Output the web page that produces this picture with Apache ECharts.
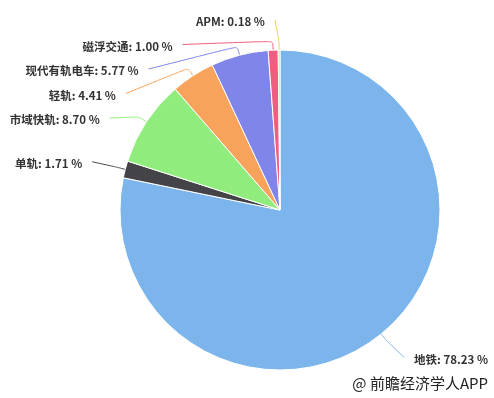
<!DOCTYPE html>
<html><head><meta charset="utf-8">
<script src="https://cdn.jsdelivr.net/npm/echarts@6/dist/echarts.min.js"></script>
<style>html,body{margin:0;padding:0;background:#fff}#c{width:494px;height:398px}</style>
</head><body><div id="c"></div>
<script>
const categories = ['地铁','单轨','市域快轨','轻轨','现代有轨电车','磁浮交通','APM'];
const shares = [78.23, 1.71, 8.70, 4.41, 5.77, 1.00, 0.18];
const colors = ['#7cb5ec','#434348','#90ed7d','#f7a35c','#8085e9','#f15c80','#e4d354'];

// layout settings (Highcharts-like label distribution)
const CX = 280, CY = 210, R = 160, LABEL_R = 190, TOP = 19, STEP = 24.5, BREAK = 9;

const total = shares.reduce((a, b) => a + b, 0);
const layout = [];
let cum = 0;
shares.forEach((v, i) => {
  const th = 2 * Math.PI * (cum + v / 2) / total;
  cum += v;
  const s = Math.sin(th), c = Math.cos(th);
  layout.push({
    i, left: s < 0,
    edge: [CX + R * s, CY - R * c],
    brk: [CX + (R + BREAK) * s, CY - (R + BREAK) * c],
    natY: CY - LABEL_R * c
  });
});
// distribute left side labels downward from top bound
const leftSide = layout.filter(d => d.left).sort((a, b) => a.natY - b.natY);
let prev = TOP - STEP;
leftSide.forEach(d => { d.y = Math.max(d.natY, prev + STEP); prev = d.y; });
layout.filter(d => !d.left).forEach(d => { d.y = d.natY; });
layout.forEach(d => {
  const dy = Math.max(-1, Math.min(1, (d.y - CY) / LABEL_R));
  const dx = LABEL_R * Math.cos(Math.asin(dy)) + 4;
  d.x = CX + (d.left ? -dx : dx);
});

const chart = echarts.init(document.getElementById('c'));
chart.setOption({
  animation: false,
  color: colors,
  graphic: [{
    type: 'text', right: 6, bottom: 7,
    style: {text: '@ 前瞻经济学人APP', fill: '#222', font: '15px "Noto Sans CJK SC", sans-serif'}
  }],
  series: [{
    type: 'pie',
    center: [CX, CY],
    radius: R,
    startAngle: 90,
    clockwise: true,
    itemStyle: {borderColor: '#fff', borderWidth: 1},
    label: {
      show: true,
      formatter: p => p.name + ': ' + p.value.toFixed(2) + ' %',
      color: '#333',
      fontWeight: 'bold',
      fontSize: 11.5,
      overflow: 'none',
      fontFamily: '"Noto Sans CJK SC", sans-serif'
    },
    labelLine: {show: true, smooth: 0.25, lineStyle: {width: 1}},
    labelLayout: function (params) {
      const d = layout[params.dataIndex];
      return {
        x: d.left ? d.x - 10 : d.x + 10,
        y: d.y + 2,
        align: d.left ? 'right' : 'left',
        verticalAlign: 'middle',
        labelLinePoints: [d.edge, d.brk, [d.x, d.y]]
      };
    },
    data: categories.map((n, i) => ({name: n, value: shares[i]}))
  }]
});
</script></body></html>
